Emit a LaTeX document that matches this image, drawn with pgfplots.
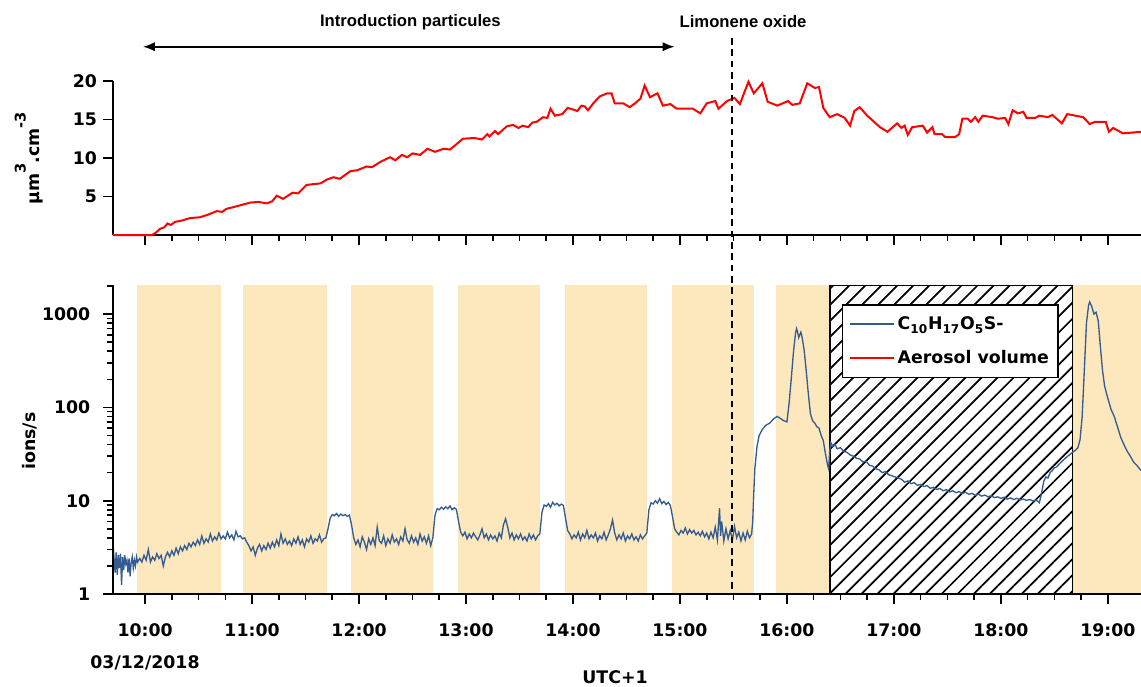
\documentclass[border=0pt]{standalone}
\usepackage{fontspec}
\setmainfont{DejaVu Sans}
\newfontfamily\arialfont{Liberation Sans}
\usepackage{pgfplots}
\pgfplotsset{compat=1.18}
\usetikzlibrary{arrows.meta,patterns.meta}
\definecolor{band}{RGB}{253,232,190}
\definecolor{ionblue}{RGB}{52,92,145}
\newcommand{\tfont}{\fontsize{13}{15}\selectfont\bfseries}
\begin{document}
\begin{tikzpicture}
\path[use as bounding box] (-84.75pt,-69pt) rectangle (771pt,445.5pt);
\pgfplotsset{
  common/.style={scale only axis, width=771pt, xmin=9.70, xmax=19.31,
    axis x line*=bottom, axis y line*=left,
    axis line style={line width=1.5pt},
    tick align=outside, xtick={10,11,...,19}, minor x tick num=3,
    major tick length=7.5pt, minor tick length=4.5pt,
    every major tick/.append style={black, line width=1.2pt},
    every minor tick/.append style={black, line width=1.2pt},
    tick label style={font=\tfont},
  }}
% ---------------- bottom panel ----------------
\begin{axis}[common, axis on top, at={(0pt,0pt)}, anchor=south west, height=231.75pt,
  ymode=log, ymin=1, ymax=2050,
  ytick={1,10,100,1000}, yticklabels={1,10,100,1000},
  minor ytick={2,3,4,5,6,7,8,9,20,30,40,50,60,70,80,90,200,300,400,500,600,700,800,900,2000},
  xticklabels={10:00,11:00,12:00,13:00,14:00,15:00,16:00,17:00,18:00,19:00},
  xticklabel style={yshift=-11pt},
  yticklabel style={xshift=-6pt},
  legend style={at={(0.709,0.9385)}, anchor=north west, draw=black, line width=1.2pt,
    fill=white, font=\tfont, inner xsep=5pt, inner ysep=7pt, row sep=10pt},
  legend cell align=left,
  legend image code/.code={\draw[#1, line width=1.3pt] (0pt,0pt) -- (33pt,0pt);},
]
\addplot[fill=band, draw=none, forget plot] coordinates {(9.925,1) (9.925,2050) (10.71,2050) (10.71,1)} --cycle;
\addplot[fill=band, draw=none, forget plot] coordinates {(10.916,1) (10.916,2050) (11.70,2050) (11.70,1)} --cycle;
\addplot[fill=band, draw=none, forget plot] coordinates {(11.925,1) (11.925,2050) (12.69,2050) (12.69,1)} --cycle;
\addplot[fill=band, draw=none, forget plot] coordinates {(12.925,1) (12.925,2050) (13.69,2050) (13.69,1)} --cycle;
\addplot[fill=band, draw=none, forget plot] coordinates {(13.925,1) (13.925,2050) (14.69,2050) (14.69,1)} --cycle;
\addplot[fill=band, draw=none, forget plot] coordinates {(14.925,1) (14.925,2050) (15.69,2050) (15.69,1)} --cycle;
\addplot[fill=band, draw=none, forget plot] coordinates {(15.90,1) (15.90,2050) (16.40,2050) (16.40,1)} --cycle;
\addplot[fill=band, draw=none, forget plot] coordinates {(18.67,1) (18.67,2050) (19.31,2050) (19.31,1)} --cycle;
\addplot[fill=white, forget plot, draw=none] coordinates {(16.40,1) (16.40,2050) (18.67,2050) (18.67,1)} --cycle;
\addplot[pattern={Lines[angle=45,distance=8.5pt,line width=1.3pt]}, pattern color=black, draw=black, line width=1.2pt, forget plot] coordinates {(16.40,1) (16.40,2050) (18.67,2050) (18.67,1)} --cycle;
\addplot[ionblue, line width=1pt] table {
9.70 3.5
9.71 2.4
9.72 1.7
9.73 2.8
9.74 1.6
9.75 2.6
9.76 1.9
9.77 2.7
9.78 1.25
9.79 2.5
9.80 1.8
9.81 2.6
9.82 2.1
9.83 2.3
9.84 1.7
9.85 2.4
9.86 1.55
9.87 2.2
9.88 2.5
9.89 1.9
9.90 2.3
9.91 2.0
9.92 2.5
9.93 2.2
9.95 2.4
9.97 2.2
9.99 2.6
10.01 2.3
10.03 3.0
10.05 2.2
10.07 2.5
10.09 2.3
10.11 2.7
10.13 2.4
10.15 2.6
10.17 2.0
10.19 2.5
10.21 2.8
10.23 2.5
10.25 2.9
10.27 2.6
10.29 3.1
10.31 2.7
10.33 3.2
10.35 2.9
10.37 3.3
10.39 3.0
10.41 3.5
10.43 3.2
10.45 3.6
10.47 3.3
10.49 3.8
10.51 3.4
10.53 4.2
10.55 3.5
10.57 3.9
10.59 3.6
10.61 4.4
10.63 3.7
10.65 4.1
10.67 3.8
10.69 4.5
10.71 3.9
10.73 4.2
10.75 3.9
10.77 4.6
10.79 4.0
10.81 4.3
10.83 3.8
10.85 4.7
10.87 4.1
10.89 4.2
10.91 3.9
10.93 4.0
10.95 3.6
10.97 3.3
10.99 2.9
11.01 3.2
11.03 2.6
11.05 3.1
11.07 3.4
11.09 2.9
11.11 3.3
11.13 3.0
11.15 3.5
11.17 3.1
11.19 3.6
11.21 3.2
11.23 3.8
11.25 3.3
11.27 4.4
11.29 3.5
11.31 3.9
11.33 3.4
11.35 3.7
11.37 3.3
11.39 3.9
11.41 3.5
11.43 4.1
11.45 3.4
11.47 3.8
11.49 3.2
11.51 3.9
11.53 3.6
11.55 4.2
11.57 3.5
11.59 3.9
11.61 3.7
11.63 4.3
11.65 3.6
11.67 3.9
11.69 4.0
11.71 5.0
11.73 6.5
11.75 7.1
11.77 6.9
11.79 7.3
11.81 6.8
11.83 7.2
11.85 6.9
11.87 7.1
11.89 6.8
11.91 7.0
11.93 5.5
11.95 4.0
11.97 3.4
11.99 3.8
12.01 3.2
12.03 4.1
12.05 3.6
12.07 3.0
12.09 3.9
12.11 3.4
12.13 4.0
12.15 3.3
12.17 5.2
12.19 3.7
12.21 3.5
12.23 4.2
12.25 3.3
12.27 3.9
12.29 3.5
12.31 4.3
12.33 3.6
12.35 3.9
12.37 3.4
12.39 4.1
12.41 3.7
12.43 5.0
12.45 3.8
12.47 3.5
12.49 4.2
12.51 3.6
12.53 4.0
12.55 3.4
12.57 4.4
12.59 3.7
12.61 4.1
12.63 3.5
12.65 4.2
12.67 3.3
12.69 4.0
12.71 7.0
12.73 8.2
12.75 8.0
12.77 8.5
12.79 8.1
12.81 8.6
12.83 8.2
12.85 8.8
12.87 8.0
12.89 8.4
12.91 8.1
12.93 6.0
12.95 4.6
12.97 4.2
12.99 4.6
13.01 3.9
13.03 4.4
13.05 4.0
13.07 4.5
13.09 4.1
13.11 3.8
13.13 4.3
13.15 5.0
13.17 4.0
13.19 4.4
13.21 3.8
13.23 4.3
13.25 3.9
13.27 4.2
13.29 3.7
13.31 4.5
13.33 4.0
13.35 5.5
13.37 6.4
13.39 5.2
13.41 4.0
13.43 4.5
13.45 3.8
13.47 4.3
13.49 3.9
13.51 4.4
13.53 3.8
13.55 4.1
13.57 3.7
13.59 4.4
13.61 3.9
13.63 4.3
13.65 3.8
13.67 4.2
13.69 4.4
13.71 7.5
13.73 9.0
13.75 8.7
13.77 9.3
13.79 8.5
13.81 9.6
13.83 9.0
13.85 9.4
13.87 8.8
13.89 9.2
13.91 8.9
13.93 6.5
13.95 4.8
13.97 4.4
13.99 3.9
14.01 4.3
14.03 4.0
14.05 4.6
14.07 3.8
14.09 4.4
14.11 4.0
14.13 4.8
14.15 3.9
14.17 4.3
14.19 4.0
14.21 4.5
14.23 3.7
14.25 4.2
14.27 3.9
14.29 4.6
14.31 3.8
14.33 4.3
14.35 5.0
14.37 6.2
14.39 4.5
14.41 3.8
14.43 4.3
14.45 3.9
14.47 4.5
14.49 3.7
14.51 4.2
14.53 3.9
14.55 4.4
14.57 3.8
14.59 4.1
14.61 3.7
14.63 4.3
14.65 3.9
14.67 4.2
14.69 4.5
14.71 8.0
14.73 9.5
14.75 9.2
14.77 10.0
14.79 9.4
14.81 10.5
14.83 9.3
14.85 9.8
14.87 9.1
14.89 9.6
14.91 8.9
14.93 6.8
14.95 5.0
14.97 4.6
14.99 4.3
15.01 4.8
15.03 4.5
15.05 5.1
15.07 4.4
15.09 4.9
15.11 4.5
15.13 4.8
15.15 4.3
15.17 4.6
15.19 4.2
15.21 4.7
15.23 4.1
15.25 4.5
15.27 3.9
15.29 4.6
15.31 4.0
15.33 5.2
15.35 3.8
15.37 8.3
15.38 4.2
15.39 6.0
15.41 3.7
15.43 5.0
15.45 3.9
15.47 4.8
15.49 3.8
15.51 5.3
15.53 4.0
15.55 4.6
15.57 3.7
15.59 4.5
15.61 3.8
15.63 4.7
15.65 4.0
15.67 4.4
15.68 6
15.69 12
15.70 22
15.72 38
15.74 50
15.77 58
15.80 64
15.84 68
15.88 76
15.91 80
15.94 76
15.97 72
16.00 70
16.02 110
16.04 200
16.06 380
16.08 620
16.09 700
16.10 640
16.11 560
16.12 600
16.13 640
16.14 580
16.16 420
16.18 250
16.20 140
16.22 85
16.24 72
16.26 68
16.28 62
16.30 60
16.32 50
16.34 44
16.36 32
16.38 24
16.39 22
16.40 34
16.41 42
16.43 38
16.45 40
16.47 36
16.50 37
16.53 34
16.56 33
16.59 31
16.62 30
16.65 28.5
16.68 28
16.71 26
16.74 26.5
16.77 24
16.80 23.5
16.83 22
16.86 21.5
16.89 20
16.92 20.5
16.95 19
16.98 18.5
17.01 18
17.04 17.5
17.07 17
17.10 15.8
17.13 16.3
17.16 15.2
17.19 15.6
17.22 14.6
17.25 15.0
17.28 14.2
17.31 14.5
17.34 13.6
17.37 13.9
17.40 13.2
17.43 13.5
17.46 12.8
17.49 13.1
17.52 12.4
17.55 12.8
17.58 12.2
17.61 12.5
17.64 12.0
17.67 12.3
17.70 11.7
17.73 12.0
17.76 11.4
17.79 11.8
17.82 11.2
17.85 11.5
17.88 11.0
17.91 11.3
17.94 10.8
17.97 11.0
18.00 10.6
18.03 10.9
18.06 10.4
18.09 10.7
18.12 10.3
18.15 10.6
18.18 10.2
18.21 10.4
18.24 10.1
18.27 10.3
18.30 9.9
18.33 10.2
18.36 9.5
18.38 12
18.40 16
18.42 18
18.44 17.5
18.46 20
18.48 21
18.50 22.5
18.52 23
18.55 25
18.58 27
18.61 29
18.64 31
18.67 33
18.70 35
18.72 37
18.74 45
18.76 80
18.78 250
18.80 800
18.82 1250
18.83 1350
18.85 1200
18.87 1000
18.89 1050
18.91 850
18.93 450
18.95 250
18.97 168
19.00 125
19.03 95
19.06 80
19.09 62
19.12 48
19.15 40
19.18 34
19.21 30
19.24 26
19.27 24
19.31 21
};
\addlegendentry{C\textsubscript{10}H\textsubscript{17}O\textsubscript{5}S-}
\addlegendimage{red, line width=1.5pt}
\addlegendentry{Aerosol volume}
\coordinate (dbot) at (axis cs:15.49,1);
\end{axis}
% ---------------- top panel ----------------
\begin{axis}[common, axis on top=false, at={(0pt,269.25pt)}, anchor=south west, height=115.5pt,
  ymin=0, ymax=20, ytick={5,10,15,20}, yticklabels={5,10,15,20}, xticklabels={}, clip=false,
  yticklabel style={xshift=-1pt}]
\addplot[red, line width=1.5pt] table {
9.70 0
10.065 0
10.10 0.3
10.14 0.8
10.18 1.0
10.21 1.5
10.24 1.3
10.28 1.7
10.35 1.9
10.42 2.2
10.51 2.3
10.58 2.6
10.67 3.1
10.72 3.0
10.76 3.4
10.82 3.6
10.90 3.9
10.98 4.2
11.06 4.3
11.14 4.1
11.19 4.4
11.23 5.1
11.29 4.7
11.38 5.5
11.43 5.4
11.51 6.5
11.57 6.6
11.64 6.7
11.70 7.2
11.76 7.5
11.82 7.3
11.92 8.3
11.98 8.4
12.07 8.9
12.12 8.8
12.20 9.5
12.29 10.1
12.34 9.7
12.40 10.4
12.45 10.1
12.50 10.6
12.57 10.4
12.64 11.2
12.71 10.8
12.79 11.2
12.85 11.1
12.92 11.9
12.97 12.5
13.08 12.6
13.15 12.4
13.20 13.1
13.22 12.8
13.27 13.5
13.30 13.1
13.38 14.1
13.44 14.3
13.49 13.9
13.53 14.2
13.58 14.0
13.62 14.6
13.66 14.7
13.72 15.3
13.76 15.2
13.79 16.4
13.83 15.5
13.90 15.7
13.95 16.5
14.00 16.3
14.04 16.1
14.08 16.8
14.11 16.7
14.14 16.2
14.19 17.1
14.25 18.0
14.32 18.4
14.36 18.4
14.39 17.1
14.47 17.1
14.53 16.6
14.58 17.1
14.63 17.7
14.67 19.4
14.72 17.9
14.79 18.4
14.84 16.8
14.91 17.0
14.97 16.4
15.12 16.4
15.19 15.8
15.25 17.1
15.33 17.4
15.36 16.4
15.44 17.4
15.51 17.8
15.56 17.0
15.64 19.9
15.69 18.4
15.77 19.7
15.82 17.3
15.91 16.8
16.01 17.4
16.05 16.9
16.12 17.1
16.19 19.7
16.26 19.1
16.30 19.2
16.34 16.5
16.40 15.3
16.47 15.7
16.54 15.2
16.59 14.2
16.63 16.1
16.68 16.6
16.75 15.5
16.87 14.0
16.94 13.4
17.03 14.5
17.07 13.9
17.10 14.2
17.13 13.0
17.17 14.0
17.27 14.2
17.31 13.3
17.36 14.0
17.38 13.1
17.45 13.1
17.48 12.7
17.57 12.7
17.61 13.1
17.64 15.1
17.69 15.1
17.72 14.7
17.76 15.3
17.79 14.7
17.83 15.5
17.92 15.3
17.97 15.1
18.04 15.2
18.07 14.4
18.11 16.2
18.16 15.8
18.21 16.0
18.24 15.2
18.32 15.2
18.36 15.5
18.44 15.3
18.48 15.6
18.57 14.5
18.62 15.7
18.77 15.3
18.83 14.4
18.88 14.7
18.98 14.7
19.01 13.4
19.05 13.9
19.14 13.2
19.31 13.4
};
\node[font=\arialfont\bfseries\fontsize{12.5}{14}\selectfont] at (axis cs:12.48,27.66) {Introduction particules};
\draw[{Latex[length=9pt,width=7pt]}-{Latex[length=9pt,width=7pt]}, line width=1.3pt] (axis cs:9.98,24.45) -- (axis cs:14.95,24.45);
\node[font=\arialfont\bfseries\fontsize{12.5}{14}\selectfont] at (axis cs:15.59,27.66) {Limonene oxide};
\coordinate (dtop) at (axis cs:15.49,25.6);
\end{axis}
\draw[line width=1.4pt, dash pattern=on 5pt off 3.5pt] (dtop) -- (dbot);
\node[rotate=90, font=\tfont] at (-62.25pt,114.75pt) {ions/s};
\node[rotate=90, font=\tfont] at (-63pt,327pt) {µm\raisebox{0.8em}{\fontsize{11}{12}\selectfont 3}.cm\raisebox{0.8em}{\fontsize{11}{12}\selectfont -3}};
\node[font=\tfont] at (376.5pt,-62.25pt) {UTC+1};
\node[font=\tfont] at (24pt,-51.75pt) {03/12/2018};
\end{tikzpicture}
\end{document}
